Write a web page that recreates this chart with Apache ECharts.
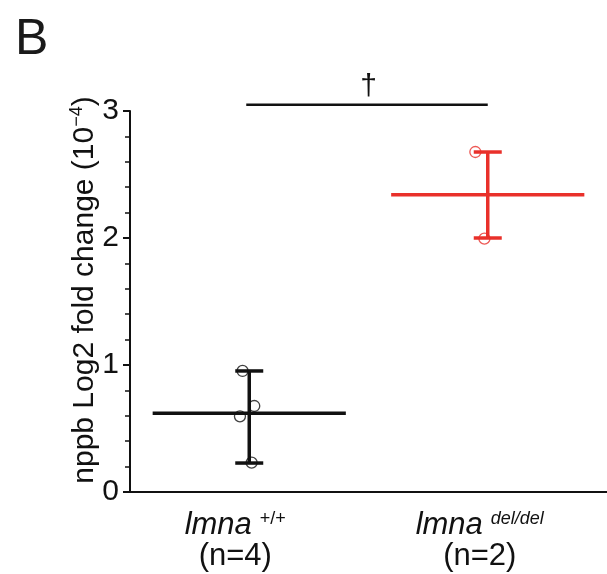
<!DOCTYPE html>
<html>
<head>
<meta charset="utf-8">
<script src="https://cdn.jsdelivr.net/npm/echarts@6/dist/echarts.min.js"></script>
<style>
  html, body { margin: 0; padding: 0; background: #fff; }
  #chart { width: 607px; height: 574px; }
</style>
</head>
<body>
<div id="chart"></div>
<script>
// nppb expression per genotype (Log2 fold change, x10^-4)
const genotypes = ['+/+', 'del/del'];
const sampleSizes = [4, 2];
const wildTypeValues = [0.953, 0.677, 0.596, 0.231];
const wildTypeJitter = [-0.028, 0.021, -0.039, 0.010];
const mutantValues = [2.677, 1.995];
const mutantJitter = [-0.052, -0.014];
const groupMeans = [0.62, 2.34];
const rangeLow = [0.228, 2.0];
const rangeHigh = [0.953, 2.677];
const significanceLevel = 3.05;
const significanceMark = '\u2020';

const FONT = "'Liberation Sans', Arial, Helvetica, sans-serif";
const BLACK = '#111111';
const RED = '#e9302a';
const groupColors = [BLACK, RED];

// per-label nudges so each text line sits where the figure puts it
const labelPad = [
  { it: [0, 0, 0, 0], sup: [0, 28, 0, 8], n: [0, 28, 0, 0], supItalic: 'normal' },
  { it: [0, 0, 0, 0], sup: [0, 16, 0, 8], n: [0, 16, 0, 0], supItalic: 'italic' }
];

const richStyles = {};
labelPad.forEach((p, i) => {
  richStyles['it' + i] = { fontFamily: FONT, fontStyle: 'italic', fontSize: 31, lineHeight: 31, color: BLACK, padding: p.it };
  richStyles['sup' + i] = { fontFamily: FONT, fontStyle: p.supItalic, fontSize: 18, lineHeight: 31, verticalAlign: 'top', color: BLACK, padding: p.sup };
  richStyles['n' + i] = { fontFamily: FONT, fontSize: 31, lineHeight: 31, color: BLACK, padding: p.n };
});

const chart = echarts.init(document.getElementById('chart'), null, { renderer: 'canvas' });

chart.setOption({
  animation: false,
  backgroundColor: '#ffffff',
  title: {
    text: 'B',
    left: 10,
    top: 10,
    textStyle: { fontFamily: FONT, fontSize: 50, fontWeight: 'normal', color: '#1a1a1a' }
  },
  // vertical axis title, read bottom to top
  graphic: [
    {
      type: 'text',
      x: 85,
      y: 290,
      rotation: Math.PI / 2,
      style: {
        text: '{t|nppb Log2 fold change (10}{s|\u22124}{t|)}',
        align: 'center',
        verticalAlign: 'middle',
        rich: {
          t: { fontFamily: FONT, fontSize: 30, fill: BLACK, lineHeight: 34 },
          s: { fontFamily: FONT, fontSize: 18, fill: BLACK, lineHeight: 34, verticalAlign: 'top' }
        }
      }
    }
  ],
  grid: { left: 130, right: 0, top: 111, bottom: 82 },
  xAxis: [
    {
      type: 'category',
      data: genotypes,
      boundaryGap: true,
      axisLine: { lineStyle: { color: BLACK, width: 2 } },
      axisTick: { show: false },
      axisLabel: {
        margin: 18,
        interval: 0,
        formatter: (value, index) =>
          `{it${index}|lmna}{sup${index}|${value}}\n{n${index}|(n=${sampleSizes[index]})}`,
        rich: richStyles
      }
    },
    {
      type: 'value',
      min: -0.5,
      max: 1.5,
      show: false
    }
  ],
  yAxis: {
    type: 'value',
    min: 0,
    max: 3,
    interval: 1,
    axisLine: { show: true, onZero: false, lineStyle: { color: BLACK, width: 2 } },
    axisTick: { show: true, length: 7, lineStyle: { color: BLACK, width: 2 } },
    minorTick: { show: true, splitNumber: 5, length: 5, lineStyle: { color: BLACK, width: 1.5 } },
    splitLine: { show: false },
    axisLabel: { fontFamily: FONT, fontSize: 30, color: BLACK, margin: 11 }
  },
  series: [
    {
      // group mean bars
      type: 'custom',
      xAxisIndex: 0,
      data: groupMeans.map((m, i) => [i, m]),
      renderItem: (params, api) => {
        const p = api.coord([api.value(0), api.value(1)]);
        const half = api.size([1, 0])[0] * 0.405;
        return {
          type: 'line',
          shape: { x1: p[0] - half, y1: p[1], x2: p[0] + half, y2: p[1] },
          style: { stroke: groupColors[params.dataIndex], lineWidth: 3.5 }
        };
      },
      z: 3
    },
    {
      // min–max range with caps
      type: 'custom',
      xAxisIndex: 0,
      data: rangeLow.map((lo, i) => [i, lo, rangeHigh[i]]),
      renderItem: (params, api) => {
        const lo = api.coord([api.value(0), api.value(1)]);
        const hi = api.coord([api.value(0), api.value(2)]);
        const cap = 14;
        const style = { stroke: groupColors[params.dataIndex], lineWidth: 3.5 };
        return {
          type: 'group',
          children: [
            { type: 'line', shape: { x1: lo[0], y1: lo[1], x2: hi[0], y2: hi[1] }, style },
            { type: 'line', shape: { x1: hi[0] - cap, y1: hi[1], x2: hi[0] + cap, y2: hi[1] }, style },
            { type: 'line', shape: { x1: lo[0] - cap, y1: lo[1], x2: lo[0] + cap, y2: lo[1] }, style }
          ]
        };
      },
      z: 3
    },
    {
      type: 'scatter',
      xAxisIndex: 1,
      data: wildTypeValues.map((v, i) => [0 + wildTypeJitter[i], v]),
      symbol: 'circle',
      symbolSize: 11,
      itemStyle: { color: 'rgba(0,0,0,0)', borderColor: BLACK, borderWidth: 1.3 },
      z: 4
    },
    {
      type: 'scatter',
      xAxisIndex: 1,
      data: mutantValues.map((v, i) => [1 + mutantJitter[i], v]),
      symbol: 'circle',
      symbolSize: 11,
      itemStyle: { color: 'rgba(0,0,0,0)', borderColor: RED, borderWidth: 1.3 },
      z: 4
    },
    {
      // significance bracket between the two genotypes
      type: 'custom',
      xAxisIndex: 0,
      clip: false,
      data: [[0, 1, significanceLevel]],
      renderItem: (params, api) => {
        const a = api.coord([api.value(0), api.value(2)]);
        const b = api.coord([api.value(1), api.value(2)]);
        return {
          type: 'group',
          children: [
            { type: 'line', shape: { x1: a[0] - 3, y1: a[1], x2: b[0], y2: b[1] }, style: { stroke: BLACK, lineWidth: 2.5 } },
            {
              type: 'text',
              x: (a[0] + b[0]) / 2,
              y: a[1] - 3,
              style: { text: significanceMark, fontFamily: FONT, fontSize: 30, fill: BLACK, align: 'center', verticalAlign: 'bottom' }
            }
          ]
        };
      },
      z: 5
    }
  ]
});
</script>
</body>
</html>
